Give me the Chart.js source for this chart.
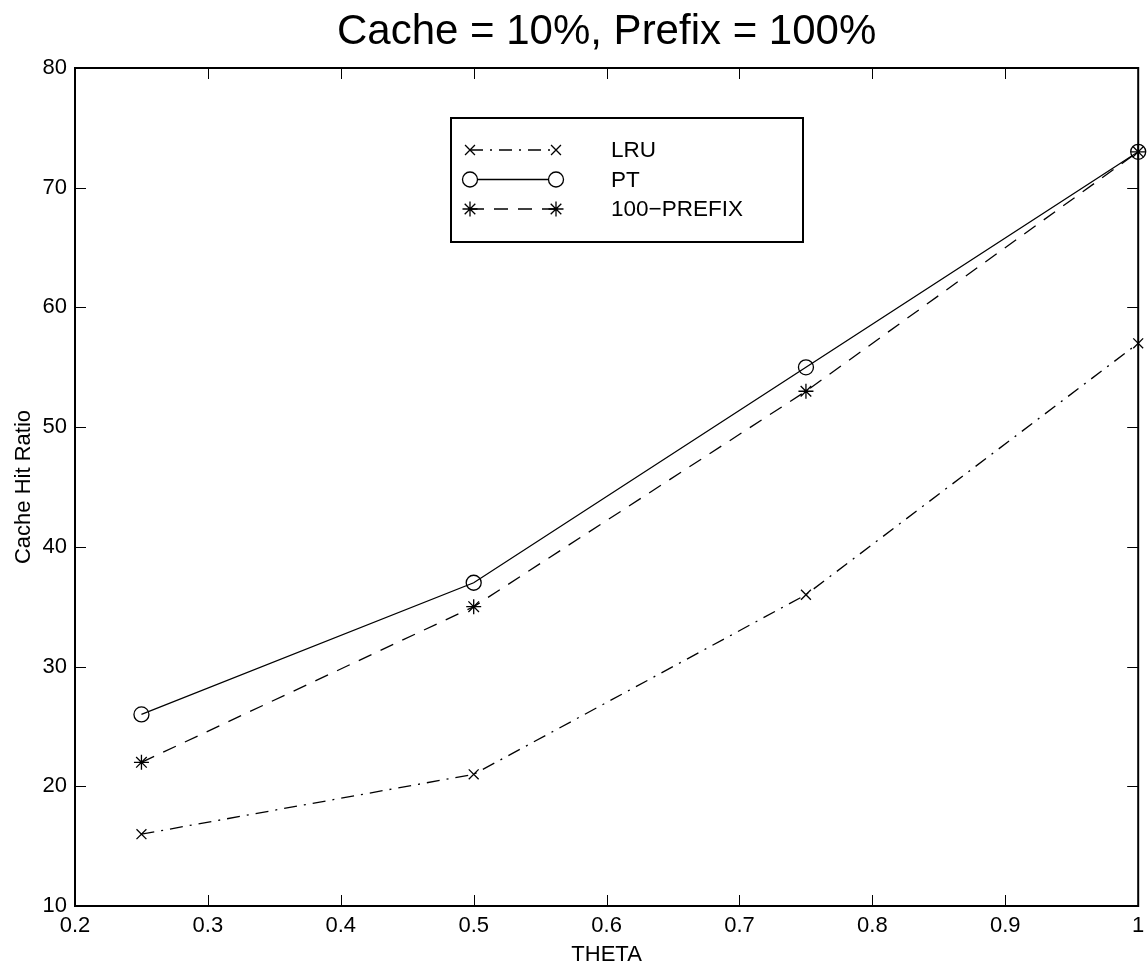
<!DOCTYPE html>
<html>
<head>
<meta charset="utf-8">
<script src="https://cdn.jsdelivr.net/npm/chart.js@4"></script>
<style>
  body { margin: 0; background: #fff; }
  canvas { display: block; }
</style>
</head>
<body>
<canvas id="grafico" width="1147" height="969"></canvas>
<script>
// valores
const theta = [0.25, 0.5, 0.75, 1.0]
const lru = [16, 21, 36, 57]
const pt = [26, 37, 55, 73]
const prefix100 = [22, 35, 53, 73]
const nomes = ['LRU', 'PT', '100\u2212PREFIX']
const ticksX = [0.2, 0.3, 0.4, 0.5, 0.6, 0.7, 0.8, 0.9, 1]
const titulo = 'Cache = 10%, Prefix = 100%'

const fonte = 'Liberation Sans, Arial, Helvetica, sans-serif'

function pares(ys) {
    return theta.map((x, i) => ({ x: x, y: ys[i] }))
}

// estilos das series: marcador, traco
const estilos = [
    { point: 'crossRot', dash: [13, 7, 2, 7], radius: 7 },
    { point: 'circle', dash: [], radius: 7.5 },
    { point: 'star', dash: [14, 10], radius: 7.5 },
]

const datasets = [lru, pt, prefix100].map((serie, i) => ({
    label: nomes[i],
    data: pares(serie),
    borderColor: '#000',
    backgroundColor: 'rgba(0,0,0,0)',
    borderWidth: 1.3,
    borderDash: estilos[i].dash,
    pointStyle: estilos[i].point,
    pointRadius: estilos[i].radius,
    pointBorderWidth: 1.3,
    pointBorderColor: '#000',
    pointBackgroundColor: 'rgba(0,0,0,0)',
    tension: 0,
    clip: false,
}))

// desenha ticks internos, moldura, titulo e legenda
const extras = {
    id: 'extras',
    afterDraw(chart) {
        const ctx = chart.ctx
        const a = chart.chartArea
        const sx = chart.scales.x
        const sy = chart.scales.y
        ctx.save()
        ctx.strokeStyle = '#000'
        ctx.lineWidth = 1
        const t = 11
        sx.ticks.forEach(tk => {
            const px = Math.round(sx.getPixelForValue(tk.value)) + 0.5
            ctx.beginPath()
            ctx.moveTo(px, a.bottom); ctx.lineTo(px, a.bottom - t)
            ctx.moveTo(px, a.top); ctx.lineTo(px, a.top + t)
            ctx.stroke()
        })
        sy.ticks.forEach(tk => {
            const py = Math.round(sy.getPixelForValue(tk.value)) + 0.5
            ctx.beginPath()
            ctx.moveTo(a.left, py); ctx.lineTo(a.left + t, py)
            ctx.moveTo(a.right, py); ctx.lineTo(a.right - t, py)
            ctx.stroke()
        })
        ctx.lineWidth = 2
        ctx.strokeRect(a.left, a.top, a.right - a.left, a.bottom - a.top)

        // titulo
        ctx.fillStyle = '#000'
        ctx.font = '42px ' + fonte
        ctx.textAlign = 'center'
        ctx.textBaseline = 'middle'
        ctx.fillText(titulo, (a.left + a.right) / 2, 32)

        // legenda
        const lx = 451, ly = 118, lw = 352, lh = 124
        ctx.fillStyle = '#fff'
        ctx.fillRect(lx, ly, lw, lh)
        ctx.lineWidth = 2
        ctx.strokeRect(lx, ly, lw, lh)
        ctx.font = '22.5px ' + fonte
        ctx.textAlign = 'left'
        chart.data.datasets.forEach((ds, i) => {
            const y = 150 + i * 29.5
            const x0 = 470, x1 = 556
            ctx.lineWidth = 1.3
            ctx.setLineDash(ds.borderDash)
            ctx.beginPath()
            ctx.moveTo(x0, y); ctx.lineTo(x1, y)
            ctx.stroke()
            ctx.setLineDash([])
            const opt = { pointStyle: ds.pointStyle, radius: ds.pointRadius, borderWidth: 1.3 }
            ctx.fillStyle = '#fff'
            Chart.helpers.drawPoint(ctx, opt, x0, y)
            Chart.helpers.drawPoint(ctx, opt, x1, y)
            ctx.fillStyle = '#000'
            ctx.fillText(ds.label, 611, y + 1)
        })
        ctx.restore()
    }
}

const config = {
    type: 'line',
    data: { datasets: datasets },
    options: {
        responsive: false,
        animation: false,
        layout: { padding: { top: 68, right: 8, left: 0, bottom: 0 } },
        plugins: {
            legend: { display: false },
            title: { display: false },
            tooltip: { enabled: false },
        },
        scales: {
            x: {
                type: 'linear',
                min: 0.2,
                max: 1,
                afterBuildTicks(scale) {
                    scale.ticks = ticksX.map(v => ({ value: v }))
                },
                afterFit(scale) {
                    scale.height = 63
                    scale.paddingLeft = 0
                    scale.paddingRight = 0
                },
                grid: { drawOnChartArea: false, drawTicks: false },
                border: { display: false },
                ticks: {
                    color: '#000',
                    font: { family: fonte, size: 22 },
                    padding: 7,
                    maxRotation: 0,
                    autoSkip: false,
                    callback: v => String(Math.round(v * 10) / 10),
                },
                title: {
                    display: true,
                    text: 'THETA',
                    color: '#000',
                    font: { family: fonte, size: 22 },
                    padding: { top: 0, bottom: 1 },
                },
            },
            y: {
                type: 'linear',
                min: 10,
                max: 80,
                afterFit(scale) {
                    scale.width = 75
                    scale.paddingTop = 0
                    scale.paddingBottom = 0
                },
                grid: { drawOnChartArea: false, drawTicks: false },
                border: { display: false },
                ticks: {
                    stepSize: 10,
                    color: '#000',
                    font: { family: fonte, size: 22 },
                    padding: 8,
                },
                title: {
                    display: true,
                    text: 'Cache Hit Ratio',
                    color: '#000',
                    font: { family: fonte, size: 22 },
                    padding: { top: 11, bottom: 0 },
                },
            },
        },
    },
    plugins: [extras],
}

new Chart(document.getElementById('grafico'), config)
</script>
</body>
</html>
